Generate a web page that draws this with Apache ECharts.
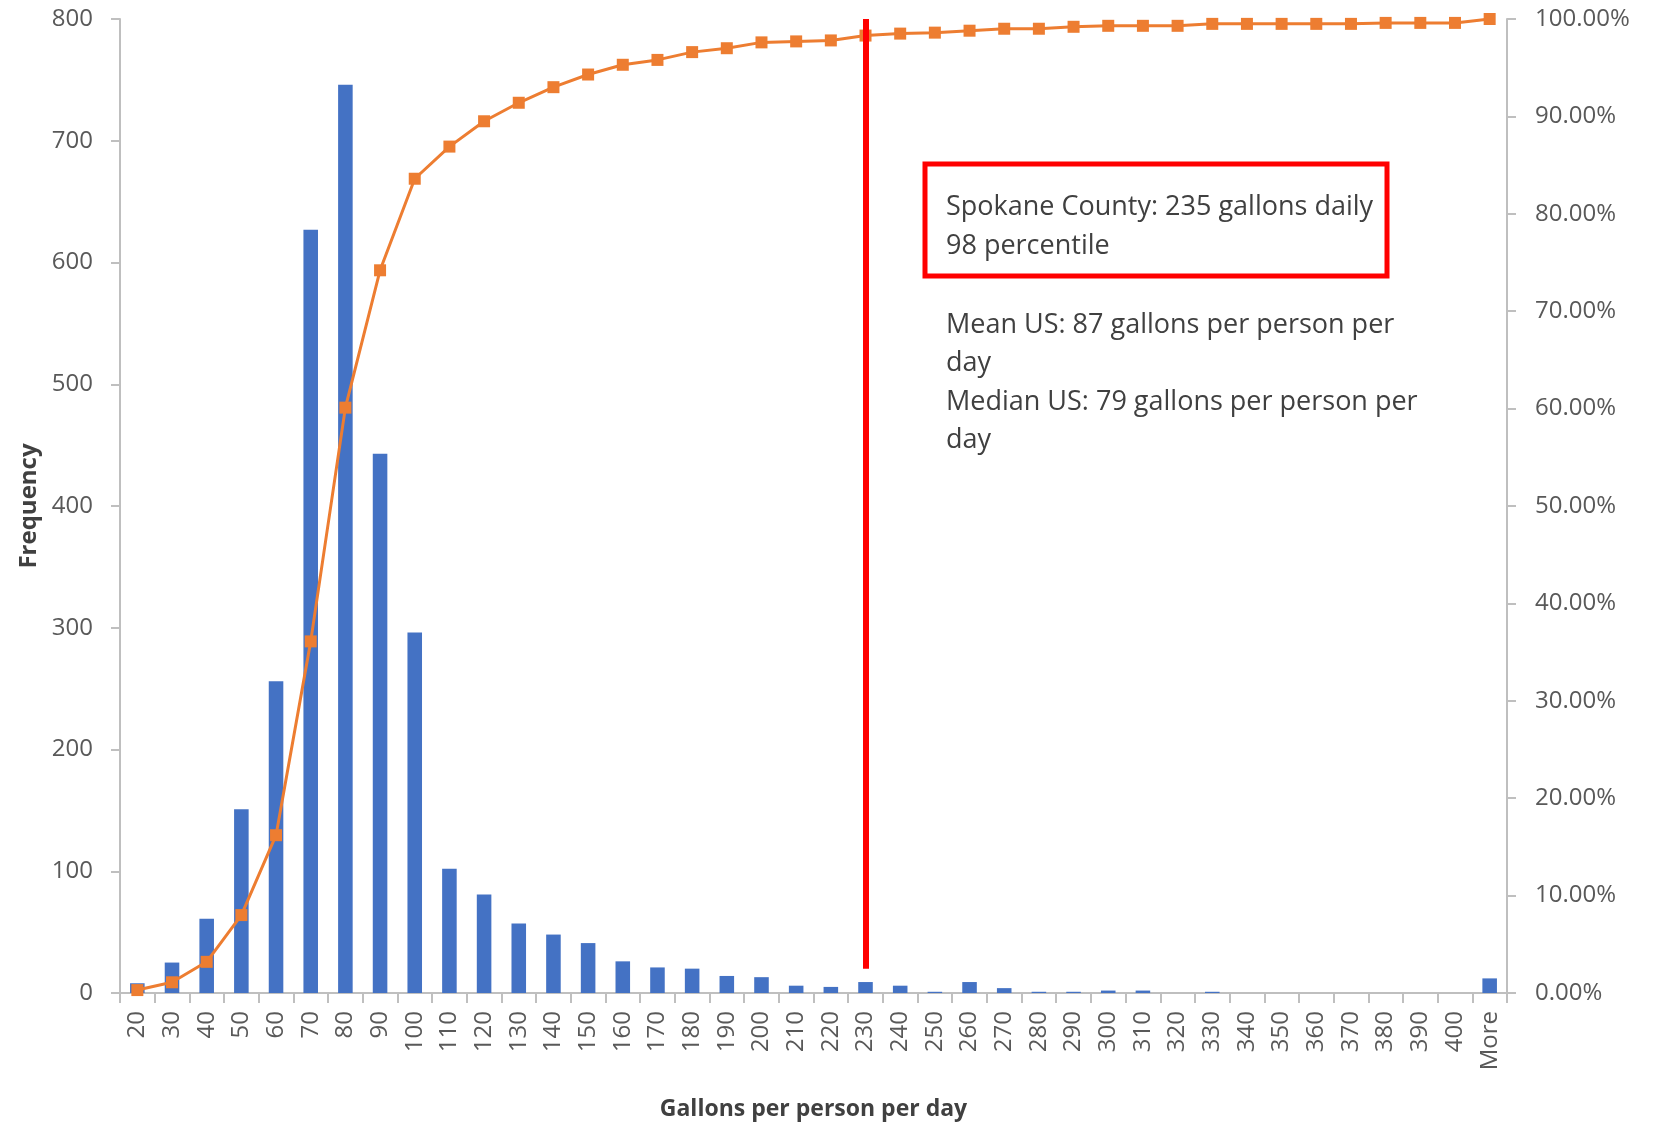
<!DOCTYPE html>
<html>
<head>
<meta charset="utf-8">
<script src="https://cdn.jsdelivr.net/npm/echarts@6/dist/echarts.min.js"></script>
<style>
  html, body { margin: 0; padding: 0; background: #ffffff; }
  #chart { width: 1663px; height: 1126px; }
</style>
</head>
<body>
<div id="chart"></div>
<script>
// ---- data ----
const categories = ['20','30','40','50','60','70','80','90','100','110','120','130','140','150','160','170','180','190','200','210','220','230','240','250','260','270','280','290','300','310','320','330','340','350','360','370','380','390','400','More'];
const frequency = [8,25,61,151,256,627,746,443,296,102,81,57,48,41,26,21,20,14,13,6,5,9,6,1,9,4,1,1,2,2,0,1,0,0,0,0,0,0,0,12];
const cumulativePct = [0.3,1.1,3.2,8.0,16.2,36.1,60.1,74.2,83.6,86.9,89.5,91.4,93.0,94.3,95.3,95.8,96.6,97.0,97.6,97.7,97.8,98.3,98.5,98.6,98.8,99.0,99.0,99.2,99.3,99.3,99.3,99.5,99.5,99.5,99.5,99.5,99.6,99.6,99.6,100];
const spokaneCategory = '230';
const markerRange = [20, 800];
const boxLines = ['Spokane County: 235 gallons daily', '98 percentile'];
const noteLines = ['Mean US: 87 gallons per person per', 'day', 'Median US: 79 gallons per person per', 'day'];
const xTitle = 'Gallons per person per day';
const yTitle = 'Frequency';

// ---- chart ----
const FONT = '"Open Sans", "Noto Sans", sans-serif';
const axisGray = '#BFBFBF';
const labelGray = '#595959';
const chart = echarts.init(document.getElementById('chart'), null, { renderer: 'canvas' });

const graphics = [];
graphics.push({
  type: 'rect', z: 100,
  shape: { x: 925, y: 164, width: 462, height: 112 },
  style: { fill: 'none', stroke: '#FF0000', lineWidth: 5 }
});
boxLines.forEach((t, i) => {
  graphics.push({ type: 'text', z: 100, x: 946, y: 207 + i * 39,
    style: { text: t, font: '27px ' + FONT, fill: '#404040', verticalAlign: 'middle' } });
});
noteLines.forEach((t, i) => {
  graphics.push({ type: 'text', z: 100, x: 946, y: 325 + i * 38.6,
    style: { text: t, font: '27px ' + FONT, fill: '#404040', verticalAlign: 'middle' } });
});

chart.setOption({
  animation: false,
  backgroundColor: '#ffffff',
  textStyle: { fontFamily: FONT },
  grid: { left: 120, right: 156, top: 19, bottom: 130 },
  xAxis: {
    type: 'category',
    data: categories,
    boundaryGap: true,
    axisLine: { show: true, lineStyle: { color: axisGray, width: 2 } },
    axisTick: { show: true, length: 10, interval: 0, lineStyle: { color: axisGray, width: 2 } },
    axisLabel: { interval: 0, rotate: 90, fontSize: 24, color: labelGray, margin: 18, fontFamily: FONT },
    name: xTitle,
    nameLocation: 'middle',
    nameGap: 105,
    nameTextStyle: { fontWeight: 'bold', fontSize: 23, color: '#404040', fontFamily: FONT }
  },
  yAxis: [
    {
      type: 'value', min: 0, max: 800, interval: 100, position: 'left',
      axisLine: { show: true, lineStyle: { color: axisGray, width: 2 } },
      axisTick: { show: true, length: 9, lineStyle: { color: axisGray, width: 2 } },
      splitLine: { show: false },
      axisLabel: { fontSize: 24, color: labelGray, margin: 27, fontFamily: FONT },
      name: yTitle, nameLocation: 'middle', nameGap: 79,
      nameTextStyle: { fontWeight: 'bold', fontSize: 24, color: '#404040', fontFamily: FONT }
    },
    {
      type: 'value', min: 0, max: 100, interval: 10, position: 'right',
      axisLine: { show: true, lineStyle: { color: axisGray, width: 2 } },
      axisTick: { show: true, length: 9, lineStyle: { color: axisGray, width: 2 } },
      splitLine: { show: false },
      axisLabel: { fontSize: 24, color: labelGray, margin: 28, fontFamily: FONT,
        formatter: v => v.toFixed(2) + '%' }
    }
  ],
  series: [
    {
      name: 'Frequency', type: 'bar', yAxisIndex: 0, data: frequency,
      barWidth: '42%', itemStyle: { color: '#4472C4' }, z: 2
    },
    {
      name: 'Cumulative %', type: 'line', yAxisIndex: 1, data: cumulativePct,
      symbol: 'rect', symbolSize: 12, showSymbol: true,
      lineStyle: { color: '#ED7D31', width: 3 },
      itemStyle: { color: '#ED7D31' }, z: 3
    },
    {
      name: 'Spokane', type: 'line', yAxisIndex: 0, data: [], z: 5,
      markLine: {
        silent: true, symbol: ['none', 'none'], label: { show: false },
        lineStyle: { color: '#FF0000', width: 6, type: 'solid' },
        data: [[{ xAxis: spokaneCategory, yAxis: markerRange[0] }, { xAxis: spokaneCategory, yAxis: markerRange[1] }]]
      }
    }
  ],
  graphic: graphics
});
</script>
</body>
</html>
